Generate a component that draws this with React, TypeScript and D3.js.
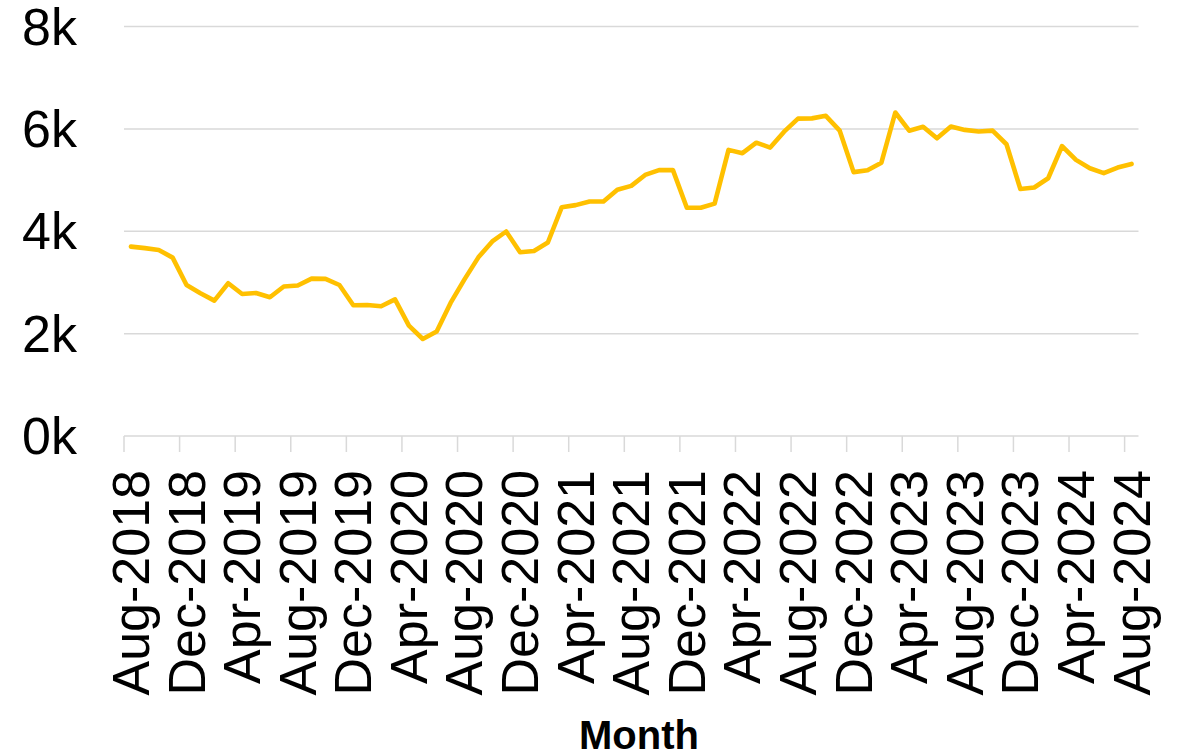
import React from "react";
import * as d3 from "d3";

const startMonth = new Date(2018, 7, 1);
const endMonth = new Date(2024, 8, 1);
const months: Date[] = d3.timeMonth.range(startMonth, endMonth);

const values: number[] = [
  3700, 3670, 3635, 3485, 2950, 2790, 2645, 2985, 2775, 2795,
  2710, 2920, 2940, 3075, 3070, 2950, 2555, 2560, 2535, 2670,
  2155, 1895, 2040, 2600, 3060, 3490, 3800, 3995, 3590, 3615,
  3780, 4470, 4510, 4580, 4580, 4810, 4886, 5100, 5195, 5195,
  4460, 4460, 4540, 5590, 5525, 5730, 5635, 5945, 6200, 6205,
  6255, 5965, 5155, 5190, 5340, 6320, 5965, 6040, 5815, 6045,
  5980, 5950, 5965, 5700, 4825, 4855, 5035, 5665, 5395, 5230,
  5135, 5245, 5315,
];

const yTicks: number[] = [0, 2000, 4000, 6000, 8000];
const labelEvery = 4;
const xTitle = "Month";
const lineColor = "#FFC000";
const gridColor = "#d9d9d9";
const FONT = "'Liberation Sans', Arial, Helvetica, sans-serif";

const fmtMonth = d3.timeFormat("%b-%Y");

export default function App() {
  const W = 1181;
  const H = 756;
  const left = 124;
  const right = 1138.5;
  const top = 26.5;
  const bottom = 436;

  const idx = values.map((_, i) => i);
  const x = d3.scaleBand<number>().domain(idx).range([left, right]).padding(0);
  const y = d3.scaleLinear().domain([0, 8000]).range([bottom, top]);
  const bw = x.bandwidth();

  const line = d3
    .line<number>()
    .x((_, i) => (x(i) as number) + bw / 2)
    .y((d) => y(d));

  const tickIdx = idx.filter((i) => i % labelEvery === 0);

  return (
    <svg
      width={W}
      height={H}
      style={{ position: "absolute", left: 0, top: 0, background: "#fff" }}
    >
      {yTicks.map((t) =>
        t === 0 ? null : (
          <line
            key={"g" + t}
            x1={left}
            x2={right}
            y1={y(t)}
            y2={y(t)}
            stroke={gridColor}
            strokeWidth={1.5}
          />
        )
      )}
      <line x1={left} x2={right} y1={bottom} y2={bottom} stroke={gridColor} strokeWidth={1.5} />
      {tickIdx.map((i) => (
        <line
          key={"t" + i}
          x1={x(i) as number}
          x2={x(i) as number}
          y1={bottom}
          y2={bottom + 16}
          stroke={gridColor}
          strokeWidth={1.5}
        />
      ))}
      {yTicks.map((t) => (
        <text
          key={"yl" + t}
          x={77}
          y={y(t)}
          textAnchor="end"
          dominantBaseline="central"
          fontFamily={FONT}
          fontSize={52}
          fill="#000"
        >
          {t / 1000 + "k"}
        </text>
      ))}
      {tickIdx.map((i) => {
        const cx = (x(i) as number) + bw / 2;
        return (
          <text
            key={"xl" + i}
            transform={`translate(${cx},470) rotate(-90)`}
            textAnchor="end"
            dominantBaseline="central"
            fontFamily={FONT}
            fontSize={52}
            fill="#000"
          >
            {fmtMonth(months[i])}
          </text>
        );
      })}
      <path
        d={line(values) || ""}
        fill="none"
        stroke={lineColor}
        strokeWidth={4.6}
        strokeLinejoin="round"
        strokeLinecap="round"
      />
      <text
        x={639}
        y={749}
        textAnchor="middle"
        fontFamily={FONT}
        fontWeight="bold"
        fontSize={40}
        fill="#000"
      >
        {xTitle}
      </text>
    </svg>
  );
}
